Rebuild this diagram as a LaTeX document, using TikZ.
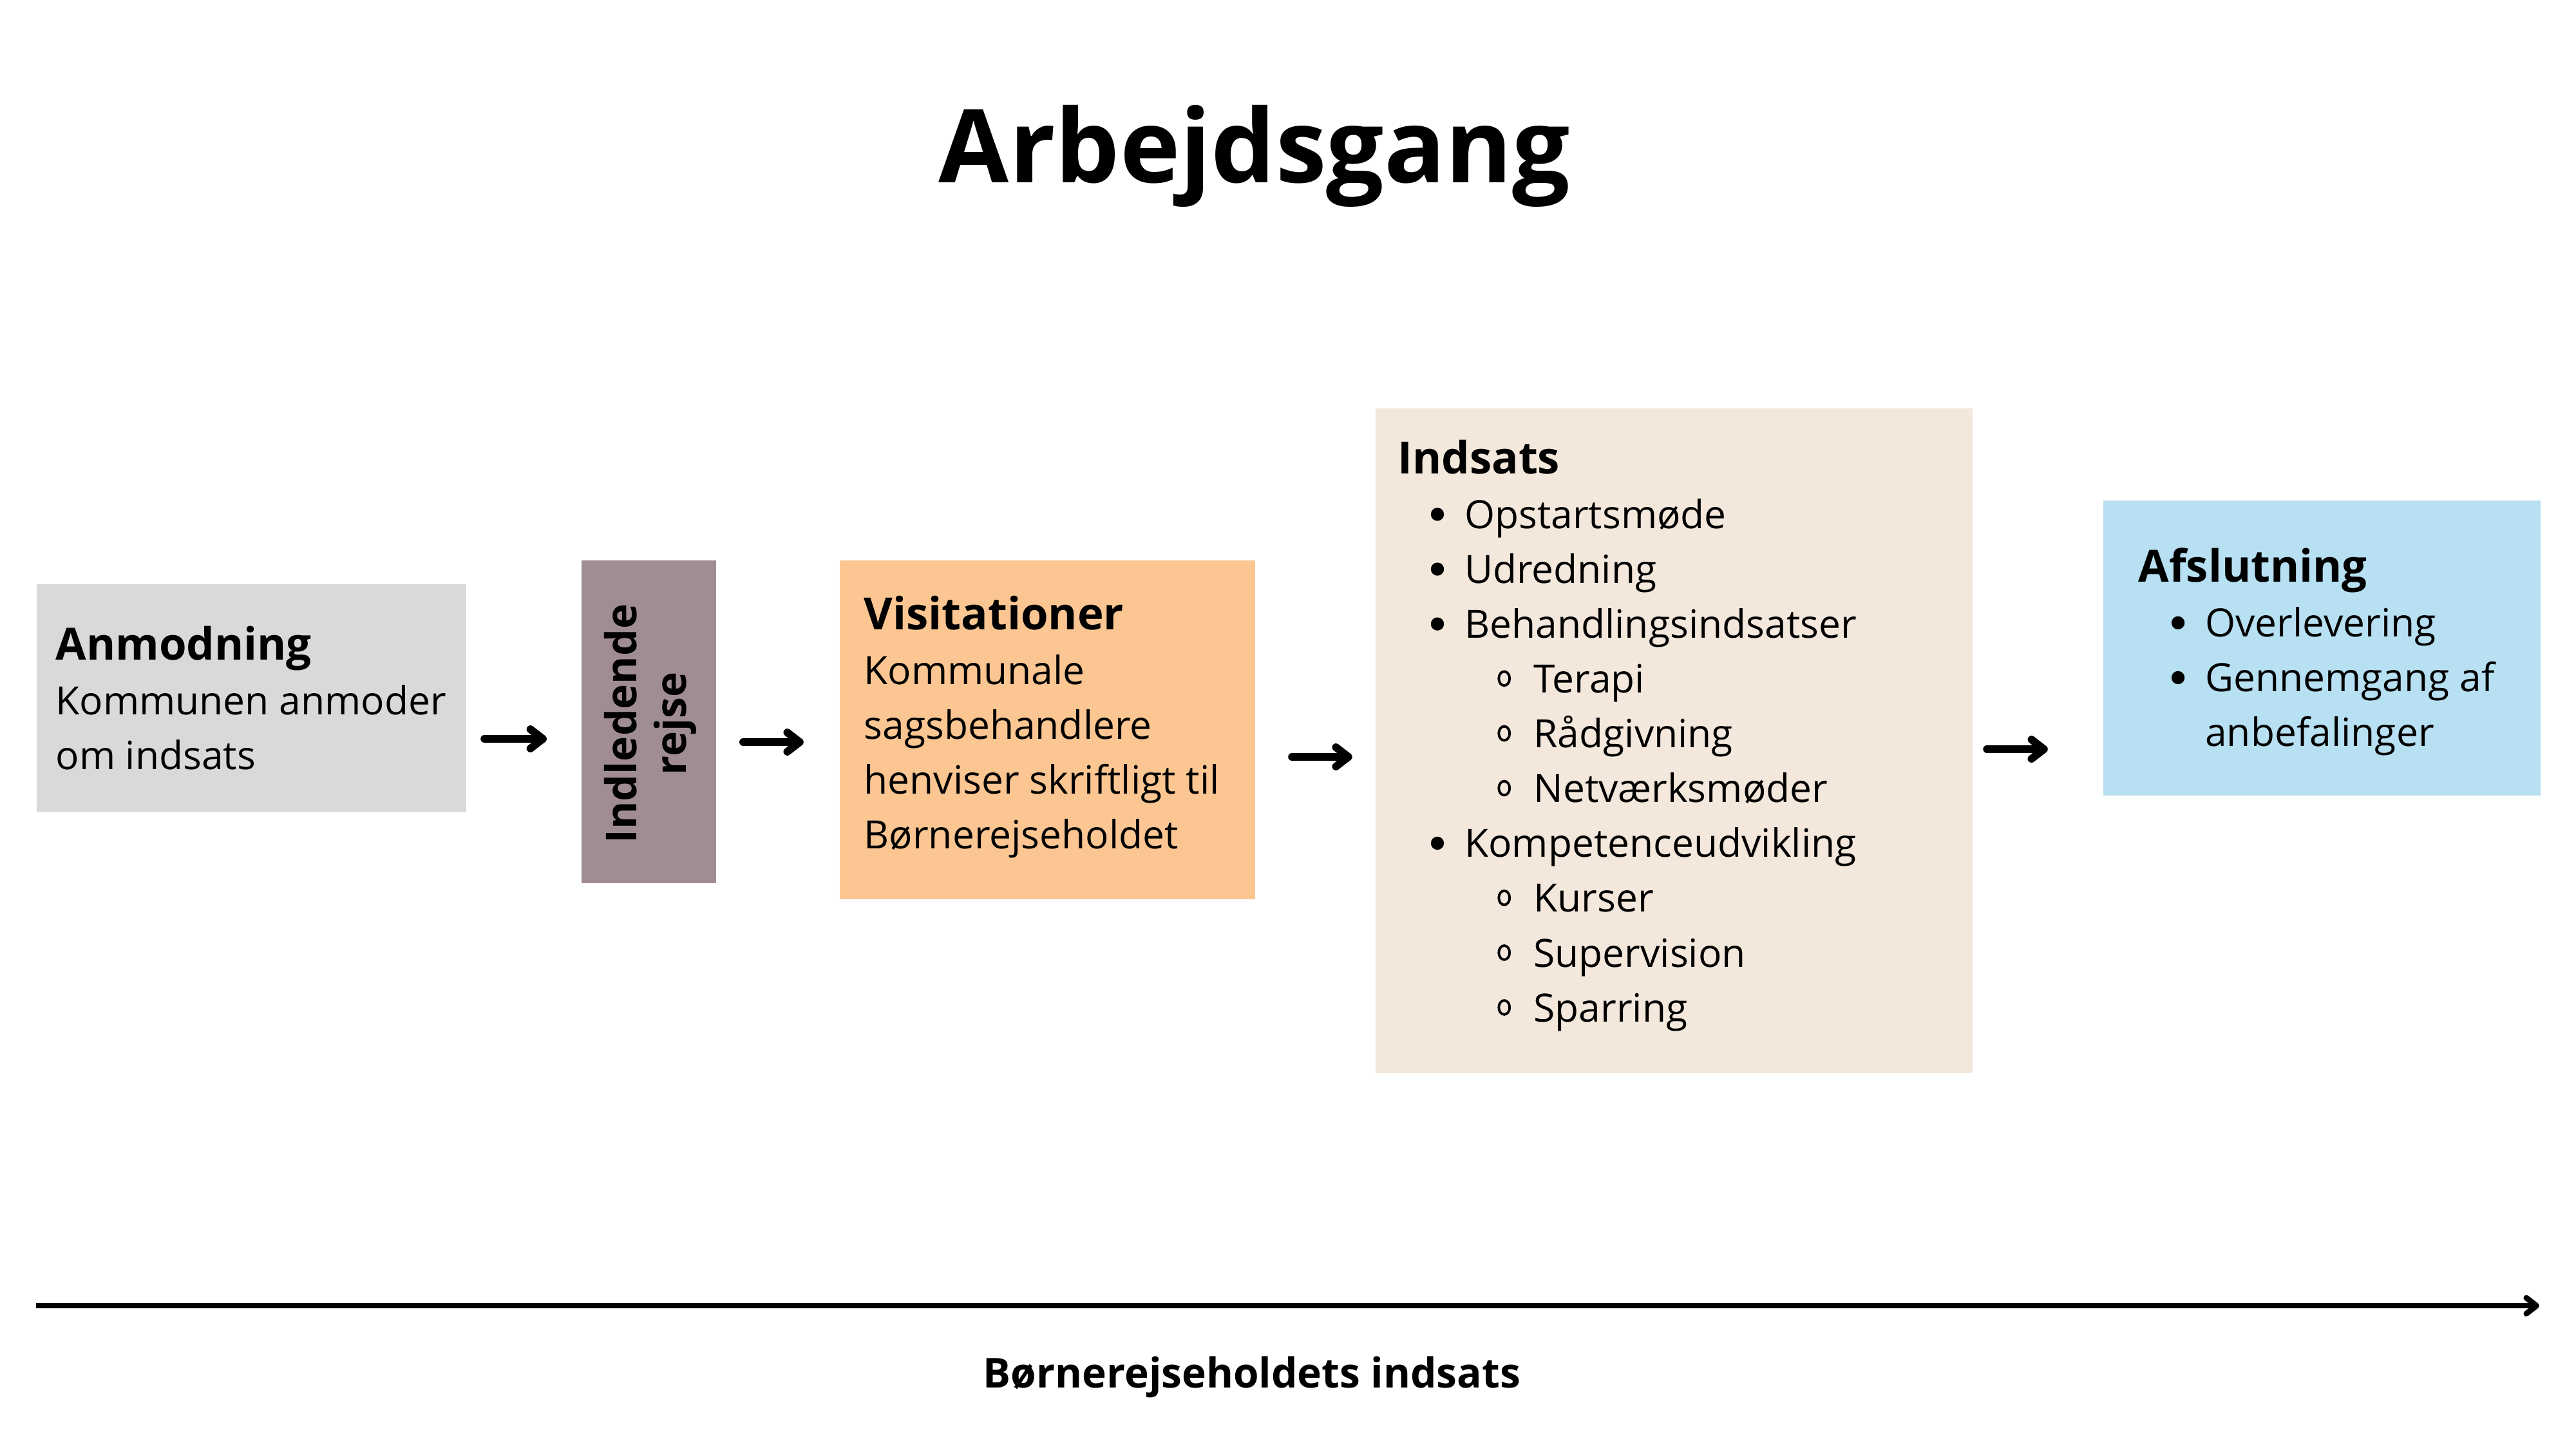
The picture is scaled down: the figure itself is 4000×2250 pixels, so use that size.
\documentclass[tikz,border=0pt]{standalone}
\usepackage{fontspec}
\setmainfont{Open Sans}
\usetikzlibrary{arrows.meta}

\definecolor{anmgray}{HTML}{D9D9D9}
\definecolor{indmauve}{HTML}{A08D94}
\definecolor{vispeach}{HTML}{FBC692}
\definecolor{indsbeige}{HTML}{F4E8DC}
\definecolor{afsblue}{HTML}{B7E0F2}

\newcommand{\hd}[1]{{\bfseries\fontsize{19.6}{24.2}\selectfont\strut #1}}
\newcommand{\bdot}{\tikz[baseline=0pt]\fill (0pt,6.2pt) circle (2.9pt);}
\newcommand{\ring}{\tikz[baseline=0pt]\draw[line width=1.1pt] (0pt,6.3pt) ellipse [x radius=2.4pt, y radius=3.1pt];}
\newcommand{\bul}[1]{\strut\hspace*{17.5pt}\makebox[0pt]{\bdot}\hspace*{12pt}#1}
\newcommand{\subbul}[1]{\strut\hspace*{47pt}\makebox[0pt]{\ring}\hspace*{13pt}#1}

\begin{document}
\begin{tikzpicture}[x=0.01cm, y=-0.01cm,
    box/.style={rectangle, inner sep=0pt, outer sep=0pt, draw=none},
    txt/.style={anchor=north west, inner sep=0pt, align=left, font=\fontsize{17.2}{24.2}\selectfont},
    flow/.style={line width=3.4pt, line cap=round, -{Straight Barb[length=5.5pt, width=8.5pt, round]}},
    timeline/.style={line width=2.5pt, -{Straight Barb[length=4.5pt, width=7pt, round]}}]

    \fill[white] (0,0) rectangle (4000,2250);
    \useasboundingbox (0,0) rectangle (4000,2250);

    % title
    \node[anchor=base, inner sep=0pt, font=\bfseries\fontsize{45}{54}\selectfont] (title) at (1948,283) {Arbejdsgang};

    % boxes
    \node[box, fill=anmgray, minimum width=6.67cm, minimum height=3.54cm] (anm) at (390.5,1084) {};
    \node[box, fill=indmauve, minimum width=2.09cm, minimum height=5.01cm] (ind) at (1007.5,1120.5) {};
    \node[box, fill=vispeach, minimum width=6.45cm, minimum height=5.26cm] (vis) at (1626.5,1133) {};
    \node[box, fill=indsbeige, minimum width=9.27cm, minimum height=10.32cm] (inds) at (2599.5,1150) {};
    \node[box, fill=afsblue, minimum width=6.79cm, minimum height=4.58cm] (afs) at (3605.5,1006) {};

    % texts
    \node[txt] (anm-txt) at ([shift={(29,57.4)}]anm.north west)
        {\hd{Anmodning}\\Kommunen anmoder\\om indsats\strut};
    \node[rotate=90, align=center, inner sep=0pt, font=\bfseries\fontsize{18.8}{21.8}\selectfont] (ind-txt)
        at ([shift={(4,3)}]ind.center) {\strut Indledende\\rejse\strut};
    \node[txt] (vis-txt) at ([shift={(37,47)}]vis.north west)
        {\hd{Visitationer}\\Kommunale\\sagsbehandlere\\henviser skriftligt til\\Børnerejseholdet\strut};
    \node[txt] (inds-txt) at ([shift={(34,41.1)}]inds.north west)
        {\hd{Indsats}\\
         \bul{Opstartsmøde}\\
         \bul{Udredning}\\
         \bul{Behandlingsindsatser}\\
         \subbul{Terapi}\\
         \subbul{Rådgivning}\\
         \subbul{Netværksmøder}\\
         \bul{Kompetenceudvikling}\\
         \subbul{Kurser}\\
         \subbul{Supervision}\\
         \subbul{Sparring}\strut};
    \node[txt] (afs-txt) at ([shift={(54,66.4)}]afs.north west)
        {\hd{Afslutning}\\
         \bul{Overlevering}\\
         \bul{Gennemgang af}\\
         \strut\hspace*{29.5pt}anbefalinger\strut};

    % arrows
    \draw[flow] ([shift={(28,63)}]anm.east) -- ([shift={(-54,26.5)}]ind.west);
    \draw[flow] ([shift={(42,31.5)}]ind.east) -- ([shift={(-56,19)}]vis.west);
    \draw[flow] ([shift={(57,42)}]vis.east) -- ([shift={(-36,25)}]inds.west);
    \draw[flow] ([shift={(22,13)}]inds.east) -- ([shift={(-86,157)}]afs.west);

    % time axis
    \coordinate (tl-start) at (56,2027);
    \coordinate (tl-end) at (3943,2027);
    \draw[timeline] (tl-start) -- (tl-end);
    \node[anchor=base, inner sep=0pt, font=\bfseries\fontsize{18.2}{22}\selectfont] (tl-label) at (1944,2154) {Børnerejseholdets indsats};

\end{tikzpicture}
\end{document}
